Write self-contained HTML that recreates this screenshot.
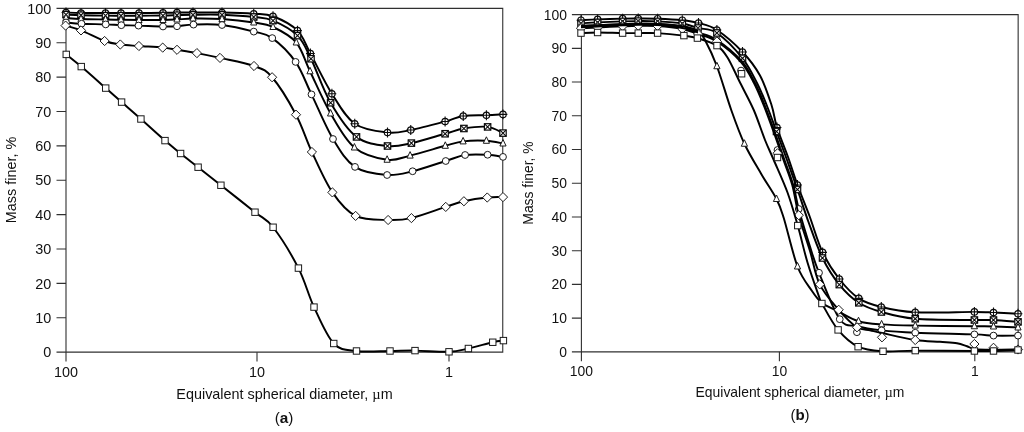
<!DOCTYPE html>
<html><head><meta charset="utf-8"><title>Mass finer vs equivalent spherical diameter</title>
<style>
html,body{margin:0;padding:0;background:#fff}
svg{display:block}
text{font-family:"Liberation Sans",sans-serif;fill:#111}
.ax{fill:none;stroke:#303030;stroke-width:1.1}
.ln{fill:none;stroke:#000;stroke-width:1.95;stroke-linejoin:round}
.m{fill:#fff;stroke:#1a1a1a;stroke-width:1.0}
.m2{fill:#fff;stroke:#0a0a0a;stroke-width:1.2}
.t2{fill:none;stroke:#0a0a0a;stroke-width:1.1}
.t{fill:none;stroke:#111;stroke-width:.95}
</style></head><body>
<svg width="1024" height="432" viewBox="0 0 1024 432">
<rect width="1024" height="432" fill="#fff"/>
<path class="ax" d="M56.5 8.35H502.75V352.15H56.5M66 8.35V361.45"/>
<path class="ax" d="M56.5 317.77H66M56.5 283.39H66M56.5 249.01H66M56.5 214.63H66M56.5 180.25H66M56.5 145.87H66M56.5 111.49H66M56.5 77.11H66M56.5 42.73H66M257 352.15V361.45M449 352.15V361.45"/>
<text x="51.3" y="357.31" text-anchor="end" font-size="14.4">0</text>
<text x="51.3" y="322.93" text-anchor="end" font-size="14.4">10</text>
<text x="51.3" y="288.55" text-anchor="end" font-size="14.4">20</text>
<text x="51.3" y="254.17" text-anchor="end" font-size="14.4">30</text>
<text x="51.3" y="219.79" text-anchor="end" font-size="14.4">40</text>
<text x="51.3" y="185.41" text-anchor="end" font-size="14.4">50</text>
<text x="51.3" y="151.03" text-anchor="end" font-size="14.4">60</text>
<text x="51.3" y="116.65" text-anchor="end" font-size="14.4">70</text>
<text x="51.3" y="82.27" text-anchor="end" font-size="14.4">80</text>
<text x="51.3" y="47.89" text-anchor="end" font-size="14.4">90</text>
<text x="51.3" y="13.51" text-anchor="end" font-size="14.4">100</text>
<text x="66" y="377.3" text-anchor="middle" font-size="14.4">100</text>
<text x="257" y="377.3" text-anchor="middle" font-size="14.4">10</text>
<text x="449" y="377.3" text-anchor="middle" font-size="14.4">1</text>
<text x="284.5" y="399.3" text-anchor="middle" font-size="14.4">Equivalent spherical diameter, <tspan font-family="'Liberation Serif',serif">µ</tspan>m</text>
<text transform="translate(16 180) rotate(-90)" text-anchor="middle" font-size="14.4">Mass finer, %</text>
<text x="284.1" y="422.9" text-anchor="middle" font-size="15.3">(<tspan font-weight="bold">a</tspan>)</text>
<g><path class="ln" d="M66 12.5C68.5 12.58 74.42 12.92 81 13C87.58 13.08 98.83 13 105.5 13C112.17 13 115.42 13 121 13C126.58 13 132 13.03 139 13C146 12.97 156.67 12.87 163 12.8C169.33 12.73 172 12.65 177 12.6C182 12.55 185.5 12.52 193 12.5C200.5 12.48 211.88 12.29 222 12.5C232.12 12.71 245.25 13.12 253.75 13.75C262.25 14.38 265.71 13.44 273 16.25C280.29 19.06 291.27 24.39 297.5 30.6C303.73 36.81 304.67 42.98 310.4 53.5C316.13 64.03 324.51 82.04 331.9 93.75C339.29 105.46 345.48 117.29 354.75 123.75C364.02 130.21 378.17 131.46 387.5 132.5C396.83 133.54 401.15 131.83 410.75 130C420.35 128.17 436.35 123.83 445.1 121.5C453.85 119.17 456.37 117.04 463.25 116C470.13 114.96 479.77 115.52 486.4 115.25C493.02 114.98 500.23 114.54 503 114.4"/><circle cx="66" cy="12.5" r="3.2" class="m2"/><path d="M61.6 12.5L70.4 12.5M66 7.6L66 17.4" class="t2"/><circle cx="81" cy="13" r="3.2" class="m2"/><path d="M76.6 13L85.4 13M81 8.1L81 17.9" class="t2"/><circle cx="105.5" cy="13" r="3.2" class="m2"/><path d="M101.1 13L109.9 13M105.5 8.1L105.5 17.9" class="t2"/><circle cx="121" cy="13" r="3.2" class="m2"/><path d="M116.6 13L125.4 13M121 8.1L121 17.9" class="t2"/><circle cx="139" cy="13" r="3.2" class="m2"/><path d="M134.6 13L143.4 13M139 8.1L139 17.9" class="t2"/><circle cx="163" cy="12.8" r="3.2" class="m2"/><path d="M158.6 12.8L167.4 12.8M163 7.9L163 17.7" class="t2"/><circle cx="177" cy="12.6" r="3.2" class="m2"/><path d="M172.6 12.6L181.4 12.6M177 7.7L177 17.5" class="t2"/><circle cx="193" cy="12.5" r="3.2" class="m2"/><path d="M188.6 12.5L197.4 12.5M193 7.6L193 17.4" class="t2"/><circle cx="222" cy="12.5" r="3.2" class="m2"/><path d="M217.6 12.5L226.4 12.5M222 7.6L222 17.4" class="t2"/><circle cx="253.75" cy="13.75" r="3.2" class="m2"/><path d="M249.35 13.75L258.15 13.75M253.75 8.85L253.75 18.65" class="t2"/><circle cx="273" cy="16.25" r="3.2" class="m2"/><path d="M268.6 16.25L277.4 16.25M273 11.35L273 21.15" class="t2"/><circle cx="297.5" cy="30.6" r="3.2" class="m2"/><path d="M293.1 30.6L301.9 30.6M297.5 25.7L297.5 35.5" class="t2"/><circle cx="310.4" cy="53.5" r="3.2" class="m2"/><path d="M306 53.5L314.8 53.5M310.4 48.6L310.4 58.4" class="t2"/><circle cx="331.9" cy="93.75" r="3.2" class="m2"/><path d="M327.5 93.75L336.3 93.75M331.9 88.85L331.9 98.65" class="t2"/><circle cx="354.75" cy="123.75" r="3.2" class="m2"/><path d="M350.35 123.75L359.15 123.75M354.75 118.85L354.75 128.65" class="t2"/><circle cx="387.5" cy="132.5" r="3.2" class="m2"/><path d="M383.1 132.5L391.9 132.5M387.5 127.6L387.5 137.4" class="t2"/><circle cx="410.75" cy="130" r="3.2" class="m2"/><path d="M406.35 130L415.15 130M410.75 125.1L410.75 134.9" class="t2"/><circle cx="445.1" cy="121.5" r="3.2" class="m2"/><path d="M440.7 121.5L449.5 121.5M445.1 116.6L445.1 126.4" class="t2"/><circle cx="463.25" cy="116" r="3.2" class="m2"/><path d="M458.85 116L467.65 116M463.25 111.1L463.25 120.9" class="t2"/><circle cx="486.4" cy="115.25" r="3.2" class="m2"/><path d="M482 115.25L490.8 115.25M486.4 110.35L486.4 120.15" class="t2"/><circle cx="503" cy="114.4" r="3.2" class="m2"/><path d="M498.6 114.4L507.4 114.4M503 109.5L503 119.3" class="t2"/></g>
<g><path class="ln" d="M66 14.6C68.5 14.7 74.42 15.03 81 15.2C87.58 15.37 98.83 15.52 105.5 15.6C112.17 15.68 115.42 15.68 121 15.7C126.58 15.72 132 15.73 139 15.7C146 15.67 156.67 15.58 163 15.5C169.33 15.42 172 15.32 177 15.2C182 15.08 185.5 14.87 193 14.8C200.5 14.73 211.88 14.43 222 14.8C232.12 15.17 245.25 16.03 253.75 17C262.25 17.97 265.71 17.5 273 20.6C280.29 23.7 291.17 29.24 297.5 35.6C303.83 41.96 305.48 47.56 311 58.75C316.52 69.94 323.02 89.72 330.6 102.75C338.18 115.78 347.02 129.69 356.5 136.9C365.98 144.11 378.35 144.97 387.5 146C396.65 147.03 401.8 145.14 411.4 143.1C421 141.06 436.35 136.18 445.1 133.75C453.85 131.32 456.82 129.64 463.9 128.5C470.98 127.36 481.08 126.13 487.6 126.9C494.12 127.67 500.43 132.07 503 133.1"/><rect x="62.8" y="11.4" width="6.4" height="6.4" class="m2"/><path d="M62.8 11.4L69.2 17.8M62.8 17.8L69.2 11.4" class="t2"/><rect x="77.8" y="12" width="6.4" height="6.4" class="m2"/><path d="M77.8 12L84.2 18.4M77.8 18.4L84.2 12" class="t2"/><rect x="102.3" y="12.4" width="6.4" height="6.4" class="m2"/><path d="M102.3 12.4L108.7 18.8M102.3 18.8L108.7 12.4" class="t2"/><rect x="117.8" y="12.5" width="6.4" height="6.4" class="m2"/><path d="M117.8 12.5L124.2 18.9M117.8 18.9L124.2 12.5" class="t2"/><rect x="135.8" y="12.5" width="6.4" height="6.4" class="m2"/><path d="M135.8 12.5L142.2 18.9M135.8 18.9L142.2 12.5" class="t2"/><rect x="159.8" y="12.3" width="6.4" height="6.4" class="m2"/><path d="M159.8 12.3L166.2 18.7M159.8 18.7L166.2 12.3" class="t2"/><rect x="173.8" y="12" width="6.4" height="6.4" class="m2"/><path d="M173.8 12L180.2 18.4M173.8 18.4L180.2 12" class="t2"/><rect x="189.8" y="11.6" width="6.4" height="6.4" class="m2"/><path d="M189.8 11.6L196.2 18M189.8 18L196.2 11.6" class="t2"/><rect x="218.8" y="11.6" width="6.4" height="6.4" class="m2"/><path d="M218.8 11.6L225.2 18M218.8 18L225.2 11.6" class="t2"/><rect x="250.55" y="13.8" width="6.4" height="6.4" class="m2"/><path d="M250.55 13.8L256.95 20.2M250.55 20.2L256.95 13.8" class="t2"/><rect x="269.8" y="17.4" width="6.4" height="6.4" class="m2"/><path d="M269.8 17.4L276.2 23.8M269.8 23.8L276.2 17.4" class="t2"/><rect x="294.3" y="32.4" width="6.4" height="6.4" class="m2"/><path d="M294.3 32.4L300.7 38.8M294.3 38.8L300.7 32.4" class="t2"/><rect x="307.8" y="55.55" width="6.4" height="6.4" class="m2"/><path d="M307.8 55.55L314.2 61.95M307.8 61.95L314.2 55.55" class="t2"/><rect x="327.4" y="99.55" width="6.4" height="6.4" class="m2"/><path d="M327.4 99.55L333.8 105.95M327.4 105.95L333.8 99.55" class="t2"/><rect x="353.3" y="133.7" width="6.4" height="6.4" class="m2"/><path d="M353.3 133.7L359.7 140.1M353.3 140.1L359.7 133.7" class="t2"/><rect x="384.3" y="142.8" width="6.4" height="6.4" class="m2"/><path d="M384.3 142.8L390.7 149.2M384.3 149.2L390.7 142.8" class="t2"/><rect x="408.2" y="139.9" width="6.4" height="6.4" class="m2"/><path d="M408.2 139.9L414.6 146.3M408.2 146.3L414.6 139.9" class="t2"/><rect x="441.9" y="130.55" width="6.4" height="6.4" class="m2"/><path d="M441.9 130.55L448.3 136.95M441.9 136.95L448.3 130.55" class="t2"/><rect x="460.7" y="125.3" width="6.4" height="6.4" class="m2"/><path d="M460.7 125.3L467.1 131.7M460.7 131.7L467.1 125.3" class="t2"/><rect x="484.4" y="123.7" width="6.4" height="6.4" class="m2"/><path d="M484.4 123.7L490.8 130.1M484.4 130.1L490.8 123.7" class="t2"/><rect x="499.8" y="129.9" width="6.4" height="6.4" class="m2"/><path d="M499.8 129.9L506.2 136.3M499.8 136.3L506.2 129.9" class="t2"/></g>
<g><path class="ln" d="M66 18C68.5 18.17 74.42 18.75 81 19C87.58 19.25 98.83 19.37 105.5 19.5C112.17 19.63 115.42 19.72 121 19.8C126.58 19.88 132 19.97 139 20C146 20.03 156.67 20.08 163 20C169.33 19.92 172 19.75 177 19.5C182 19.25 185.5 18.58 193 18.5C200.5 18.42 211.88 18.33 222 19C232.12 19.67 245.25 21.17 253.75 22.5C262.25 23.83 265.92 23.67 273 27C280.08 30.33 290.08 35.12 296.25 42.5C302.42 49.88 304.27 59.47 310 71.3C315.73 83.13 323.2 100.8 330.6 113.5C338 126.2 344.98 139.79 354.4 147.5C363.82 155.21 377.82 158.4 387.1 159.75C396.38 161.1 400.4 157.92 410.1 155.6C419.8 153.28 436.47 148.17 445.3 145.8C454.13 143.43 456.25 142.23 463.1 141.4C469.95 140.57 479.75 140.45 486.4 140.8C493.05 141.15 500.23 143.05 503 143.5"/><path d="M66 14L69.1 20.5L62.9 20.5Z" class="m"/><path d="M81 15L84.1 21.5L77.9 21.5Z" class="m"/><path d="M105.5 15.5L108.6 22L102.4 22Z" class="m"/><path d="M121 15.8L124.1 22.3L117.9 22.3Z" class="m"/><path d="M139 16L142.1 22.5L135.9 22.5Z" class="m"/><path d="M163 16L166.1 22.5L159.9 22.5Z" class="m"/><path d="M177 15.5L180.1 22L173.9 22Z" class="m"/><path d="M193 14.5L196.1 21L189.9 21Z" class="m"/><path d="M222 15L225.1 21.5L218.9 21.5Z" class="m"/><path d="M253.75 18.5L256.85 25L250.65 25Z" class="m"/><path d="M273 23L276.1 29.5L269.9 29.5Z" class="m"/><path d="M296.25 38.5L299.35 45L293.15 45Z" class="m"/><path d="M310 67.3L313.1 73.8L306.9 73.8Z" class="m"/><path d="M330.6 109.5L333.7 116L327.5 116Z" class="m"/><path d="M354.4 143.5L357.5 150L351.3 150Z" class="m"/><path d="M387.1 155.75L390.2 162.25L384 162.25Z" class="m"/><path d="M410.1 151.6L413.2 158.1L407 158.1Z" class="m"/><path d="M445.3 141.8L448.4 148.3L442.2 148.3Z" class="m"/><path d="M463.1 137.4L466.2 143.9L460 143.9Z" class="m"/><path d="M486.4 136.8L489.5 143.3L483.3 143.3Z" class="m"/><path d="M503 139.5L506.1 146L499.9 146Z" class="m"/></g>
<g><path class="ln" d="M66 22.5C68.58 22.71 74.88 23.43 81.5 23.75C88.12 24.07 99.07 24.16 105.7 24.4C112.33 24.64 115.83 25 121.3 25.2C126.77 25.4 131.55 25.38 138.5 25.6C145.45 25.82 156.58 26.39 163 26.5C169.42 26.61 171.92 26.57 177 26.25C182.08 25.93 186 24.81 193.5 24.6C201 24.39 211.96 23.83 222 25C232.04 26.17 245.38 29.42 253.75 31.6C262.12 33.78 265.27 33.05 272.25 38.1C279.23 43.15 289.06 52.52 295.6 61.9C302.14 71.28 305.27 81.55 311.5 94.4C317.73 107.25 325.75 126.92 333 139C340.25 151.08 345.98 160.9 355 166.9C364.02 172.9 377.5 174.28 387.1 175C396.7 175.72 402.83 173.58 412.6 171.25C422.38 168.92 437 163.71 445.75 161C454.5 158.29 458.12 156.04 465.1 155C472.08 153.96 481.28 154.43 487.6 154.75C493.92 155.07 500.43 156.54 503 156.9"/><circle cx="66" cy="22.5" r="3.4" class="m"/><circle cx="81.5" cy="23.75" r="3.4" class="m"/><circle cx="105.7" cy="24.4" r="3.4" class="m"/><circle cx="121.3" cy="25.2" r="3.4" class="m"/><circle cx="138.5" cy="25.6" r="3.4" class="m"/><circle cx="163" cy="26.5" r="3.4" class="m"/><circle cx="177" cy="26.25" r="3.4" class="m"/><circle cx="193.5" cy="24.6" r="3.4" class="m"/><circle cx="222" cy="25" r="3.4" class="m"/><circle cx="253.75" cy="31.6" r="3.4" class="m"/><circle cx="272.25" cy="38.1" r="3.4" class="m"/><circle cx="295.6" cy="61.9" r="3.4" class="m"/><circle cx="311.5" cy="94.4" r="3.4" class="m"/><circle cx="333" cy="139" r="3.4" class="m"/><circle cx="355" cy="166.9" r="3.4" class="m"/><circle cx="387.1" cy="175" r="3.4" class="m"/><circle cx="412.6" cy="171.25" r="3.4" class="m"/><circle cx="445.75" cy="161" r="3.4" class="m"/><circle cx="465.1" cy="155" r="3.4" class="m"/><circle cx="487.6" cy="154.75" r="3.4" class="m"/><circle cx="503" cy="156.9" r="3.4" class="m"/></g>
<g><path class="ln" d="M65.6 25.6C68.17 26.4 74.5 27.83 81 30.4C87.5 32.97 98.05 38.65 104.6 41C111.15 43.35 114.58 43.67 120.3 44.5C126.02 45.33 131.83 45.48 138.9 46C145.97 46.52 156.35 46.97 162.7 47.6C169.05 48.23 171.3 48.88 177 49.8C182.7 50.72 189.73 51.75 196.9 53.1C204.07 54.45 210.48 55.75 220 57.9C229.52 60.05 245.32 62.77 254 66C262.68 69.22 265.1 69.13 272.1 77.25C279.1 85.37 289.37 102.24 296 114.7C302.63 127.16 305.83 139.05 311.9 152C317.97 164.95 325.12 181.75 332.4 192.4C339.68 203.05 346.32 211.3 355.6 215.9C364.88 220.5 378.8 219.63 388.1 220C397.4 220.37 401.79 220.28 411.4 218.1C421.01 215.92 437 209.71 445.75 206.9C454.5 204.09 456.98 202.82 463.9 201.25C470.82 199.68 480.73 198.19 487.25 197.5C493.77 196.81 500.38 197.17 503 197.1"/><path d="M65.6 21L70.2 25.6L65.6 30.2L61 25.6Z" class="m"/><path d="M81 25.8L85.6 30.4L81 35L76.4 30.4Z" class="m"/><path d="M104.6 36.4L109.2 41L104.6 45.6L100 41Z" class="m"/><path d="M120.3 39.9L124.9 44.5L120.3 49.1L115.7 44.5Z" class="m"/><path d="M138.9 41.4L143.5 46L138.9 50.6L134.3 46Z" class="m"/><path d="M162.7 43L167.3 47.6L162.7 52.2L158.1 47.6Z" class="m"/><path d="M177 45.2L181.6 49.8L177 54.4L172.4 49.8Z" class="m"/><path d="M196.9 48.5L201.5 53.1L196.9 57.7L192.3 53.1Z" class="m"/><path d="M220 53.3L224.6 57.9L220 62.5L215.4 57.9Z" class="m"/><path d="M254 61.4L258.6 66L254 70.6L249.4 66Z" class="m"/><path d="M272.1 72.65L276.7 77.25L272.1 81.85L267.5 77.25Z" class="m"/><path d="M296 110.1L300.6 114.7L296 119.3L291.4 114.7Z" class="m"/><path d="M311.9 147.4L316.5 152L311.9 156.6L307.3 152Z" class="m"/><path d="M332.4 187.8L337 192.4L332.4 197L327.8 192.4Z" class="m"/><path d="M355.6 211.3L360.2 215.9L355.6 220.5L351 215.9Z" class="m"/><path d="M388.1 215.4L392.7 220L388.1 224.6L383.5 220Z" class="m"/><path d="M411.4 213.5L416 218.1L411.4 222.7L406.8 218.1Z" class="m"/><path d="M445.75 202.3L450.35 206.9L445.75 211.5L441.15 206.9Z" class="m"/><path d="M463.9 196.65L468.5 201.25L463.9 205.85L459.3 201.25Z" class="m"/><path d="M487.25 192.9L491.85 197.5L487.25 202.1L482.65 197.5Z" class="m"/><path d="M503 192.5L507.6 197.1L503 201.7L498.4 197.1Z" class="m"/></g>
<g><path class="ln" d="M66.25 54.4C68.75 56.43 74.67 60.98 81.25 66.6C87.83 72.22 98.98 82.18 105.7 88.1C112.42 94.02 115.73 96.95 121.6 102.1C127.47 107.25 133.67 112.58 140.9 119C148.13 125.42 158.38 134.85 165 140.6C171.62 146.35 175.08 149.07 180.6 153.5C186.12 157.93 191.38 161.91 198.1 167.2C204.82 172.49 211.42 177.75 220.9 185.25C230.38 192.75 246.3 205.2 255 212.2C263.7 219.2 265.87 217.93 273.1 227.25C280.33 236.57 291.58 254.79 298.4 268.1C305.22 281.41 308.11 294.53 314 307.1C319.89 319.67 326.67 336.18 333.75 343.5C340.83 350.82 347.12 349.75 356.5 351C365.88 352.25 380.25 351.07 390 351C399.75 350.93 405.17 350.47 415 350.6C424.83 350.73 440.1 352.15 449 351.8C457.9 351.45 461.11 350.09 468.4 348.5C475.69 346.91 486.92 343.57 492.75 342.25C498.58 340.93 501.62 340.88 503.4 340.6"/><rect x="63.05" y="51.2" width="6.4" height="6.4" class="m"/><rect x="78.05" y="63.4" width="6.4" height="6.4" class="m"/><rect x="102.5" y="84.9" width="6.4" height="6.4" class="m"/><rect x="118.4" y="98.9" width="6.4" height="6.4" class="m"/><rect x="137.7" y="115.8" width="6.4" height="6.4" class="m"/><rect x="161.8" y="137.4" width="6.4" height="6.4" class="m"/><rect x="177.4" y="150.3" width="6.4" height="6.4" class="m"/><rect x="194.9" y="164" width="6.4" height="6.4" class="m"/><rect x="217.7" y="182.05" width="6.4" height="6.4" class="m"/><rect x="251.8" y="209" width="6.4" height="6.4" class="m"/><rect x="269.9" y="224.05" width="6.4" height="6.4" class="m"/><rect x="295.2" y="264.9" width="6.4" height="6.4" class="m"/><rect x="310.8" y="303.9" width="6.4" height="6.4" class="m"/><rect x="330.55" y="340.3" width="6.4" height="6.4" class="m"/><rect x="353.3" y="347.8" width="6.4" height="6.4" class="m"/><rect x="386.8" y="347.8" width="6.4" height="6.4" class="m"/><rect x="411.8" y="347.4" width="6.4" height="6.4" class="m"/><rect x="445.8" y="348.6" width="6.4" height="6.4" class="m"/><rect x="465.2" y="345.3" width="6.4" height="6.4" class="m"/><rect x="489.55" y="339.05" width="6.4" height="6.4" class="m"/><rect x="500.2" y="337.4" width="6.4" height="6.4" class="m"/></g>
<path class="ax" d="M571.9 14.6H1018.15V351.85H571.9M581.4 14.6V361.15"/>
<path class="ax" d="M571.9 318.12H581.4M571.9 284.4H581.4M571.9 250.68H581.4M571.9 216.95H581.4M571.9 183.23H581.4M571.9 149.5H581.4M571.9 115.78H581.4M571.9 82.05H581.4M571.9 48.33H581.4M779.4 351.85V361.15M974.8 351.85V361.15"/>
<text x="567" y="356.83" text-anchor="end" font-size="13.9">0</text>
<text x="567" y="323.1" text-anchor="end" font-size="13.9">10</text>
<text x="567" y="289.38" text-anchor="end" font-size="13.9">20</text>
<text x="567" y="255.65" text-anchor="end" font-size="13.9">30</text>
<text x="567" y="221.93" text-anchor="end" font-size="13.9">40</text>
<text x="567" y="188.2" text-anchor="end" font-size="13.9">50</text>
<text x="567" y="154.48" text-anchor="end" font-size="13.9">60</text>
<text x="567" y="120.75" text-anchor="end" font-size="13.9">70</text>
<text x="567" y="87.03" text-anchor="end" font-size="13.9">80</text>
<text x="567" y="53.3" text-anchor="end" font-size="13.9">90</text>
<text x="567" y="19.58" text-anchor="end" font-size="13.9">100</text>
<text x="581.4" y="376.3" text-anchor="middle" font-size="13.9">100</text>
<text x="779.4" y="376.3" text-anchor="middle" font-size="13.9">10</text>
<text x="974.8" y="376.3" text-anchor="middle" font-size="13.9">1</text>
<text x="800" y="397" text-anchor="middle" font-size="13.9">Equivalent spherical diameter, <tspan font-family="'Liberation Serif',serif">µ</tspan>m</text>
<text transform="translate(533 183) rotate(-90)" text-anchor="middle" font-size="13.9">Mass finer, %</text>
<text x="800" y="420.4" text-anchor="middle" font-size="15">(<tspan font-weight="bold">b</tspan>)</text>
<g><path class="ln" d="M581 20.2C583.77 20.07 590.67 19.67 597.6 19.4C604.53 19.13 615.83 18.75 622.6 18.6C629.38 18.45 632.42 18.48 638.25 18.5C644.08 18.52 650.26 18.42 657.6 18.7C664.94 18.98 675.48 19.48 682.3 20.2C689.12 20.92 692.73 21.37 698.5 23C704.27 24.63 709.57 25.17 716.9 30C724.23 34.83 735.32 44.42 742.5 52C749.68 59.58 755.17 66.67 760 75.5C764.83 84.33 768.67 96.33 771.5 105C774.33 113.67 774.25 118.83 777 127.5C779.75 136.17 784.58 147.42 788 157C791.42 166.58 793.92 175.17 797.5 185C801.08 194.83 805.32 204.77 809.5 216C813.68 227.23 817.63 241.9 822.6 252.4C827.57 262.9 833.27 271.33 839.3 279C845.33 286.67 851.8 293.73 858.8 298.4C865.8 303.07 871.89 304.69 881.3 307C890.71 309.31 899.73 311.43 915.25 312.25C930.77 313.07 961.36 311.86 974.4 311.9C987.44 311.94 986.23 312.19 993.5 312.5C1000.77 312.81 1013.92 313.54 1018 313.75"/><circle cx="581" cy="20.2" r="3.2" class="m2"/><path d="M576.6 20.2L585.4 20.2M581 15.3L581 25.1" class="t2"/><circle cx="597.6" cy="19.4" r="3.2" class="m2"/><path d="M593.2 19.4L602 19.4M597.6 14.5L597.6 24.3" class="t2"/><circle cx="622.6" cy="18.6" r="3.2" class="m2"/><path d="M618.2 18.6L627 18.6M622.6 13.7L622.6 23.5" class="t2"/><circle cx="638.25" cy="18.5" r="3.2" class="m2"/><path d="M633.85 18.5L642.65 18.5M638.25 13.6L638.25 23.4" class="t2"/><circle cx="657.6" cy="18.7" r="3.2" class="m2"/><path d="M653.2 18.7L662 18.7M657.6 13.8L657.6 23.6" class="t2"/><circle cx="682.3" cy="20.2" r="3.2" class="m2"/><path d="M677.9 20.2L686.7 20.2M682.3 15.3L682.3 25.1" class="t2"/><circle cx="698.5" cy="23" r="3.2" class="m2"/><path d="M694.1 23L702.9 23M698.5 18.1L698.5 27.9" class="t2"/><circle cx="716.9" cy="30" r="3.2" class="m2"/><path d="M712.5 30L721.3 30M716.9 25.1L716.9 34.9" class="t2"/><circle cx="742.5" cy="52" r="3.2" class="m2"/><path d="M738.1 52L746.9 52M742.5 47.1L742.5 56.9" class="t2"/><circle cx="777" cy="127.5" r="3.2" class="m2"/><path d="M772.6 127.5L781.4 127.5M777 122.6L777 132.4" class="t2"/><circle cx="797.5" cy="185" r="3.2" class="m2"/><path d="M793.1 185L801.9 185M797.5 180.1L797.5 189.9" class="t2"/><circle cx="822.6" cy="252.4" r="3.2" class="m2"/><path d="M818.2 252.4L827 252.4M822.6 247.5L822.6 257.3" class="t2"/><circle cx="839.3" cy="279" r="3.2" class="m2"/><path d="M834.9 279L843.7 279M839.3 274.1L839.3 283.9" class="t2"/><circle cx="858.8" cy="298.4" r="3.2" class="m2"/><path d="M854.4 298.4L863.2 298.4M858.8 293.5L858.8 303.3" class="t2"/><circle cx="881.3" cy="307" r="3.2" class="m2"/><path d="M876.9 307L885.7 307M881.3 302.1L881.3 311.9" class="t2"/><circle cx="915.25" cy="312.25" r="3.2" class="m2"/><path d="M910.85 312.25L919.65 312.25M915.25 307.35L915.25 317.15" class="t2"/><circle cx="974.4" cy="311.9" r="3.2" class="m2"/><path d="M970 311.9L978.8 311.9M974.4 307L974.4 316.8" class="t2"/><circle cx="993.5" cy="312.5" r="3.2" class="m2"/><path d="M989.1 312.5L997.9 312.5M993.5 307.6L993.5 317.4" class="t2"/><circle cx="1018" cy="313.75" r="3.2" class="m2"/><path d="M1013.6 313.75L1022.4 313.75M1018 308.85L1018 318.65" class="t2"/></g>
<g><path class="ln" d="M581 23.3C583.77 23.15 590.67 22.72 597.6 22.4C604.53 22.08 615.83 21.62 622.6 21.4C629.38 21.18 632.42 21.1 638.25 21.1C644.08 21.1 650.26 21 657.6 21.4C664.94 21.8 675.57 22.4 682.3 23.5C689.03 24.6 692.23 26.42 698 28C703.77 29.58 709.48 27.95 716.9 33C724.32 38.05 735.82 49.97 742.5 58.3C749.18 66.63 752.92 75.05 757 83C761.08 90.95 763.75 97.92 767 106C770.25 114.08 773.17 122.5 776.5 131.5C779.83 140.5 783.5 150.33 787 160C790.5 169.67 793.92 179.17 797.5 189.5C801.08 199.83 804.33 210.58 808.5 222C812.67 233.42 817.37 247.57 822.5 258C827.63 268.43 833.25 277.13 839.3 284.6C845.35 292.07 851.78 298.23 858.8 302.8C865.82 307.37 871.99 309.34 881.4 312C890.81 314.66 899.75 317.42 915.25 318.75C930.75 320.08 961.36 319.79 974.4 320C987.44 320.21 986.23 319.68 993.5 320C1000.77 320.32 1013.92 321.58 1018 321.9"/><rect x="577.8" y="20.1" width="6.4" height="6.4" class="m2"/><path d="M577.8 20.1L584.2 26.5M577.8 26.5L584.2 20.1" class="t2"/><rect x="594.4" y="19.2" width="6.4" height="6.4" class="m2"/><path d="M594.4 19.2L600.8 25.6M594.4 25.6L600.8 19.2" class="t2"/><rect x="619.4" y="18.2" width="6.4" height="6.4" class="m2"/><path d="M619.4 18.2L625.8 24.6M619.4 24.6L625.8 18.2" class="t2"/><rect x="635.05" y="17.9" width="6.4" height="6.4" class="m2"/><path d="M635.05 17.9L641.45 24.3M635.05 24.3L641.45 17.9" class="t2"/><rect x="654.4" y="18.2" width="6.4" height="6.4" class="m2"/><path d="M654.4 18.2L660.8 24.6M654.4 24.6L660.8 18.2" class="t2"/><rect x="679.1" y="20.3" width="6.4" height="6.4" class="m2"/><path d="M679.1 20.3L685.5 26.7M679.1 26.7L685.5 20.3" class="t2"/><rect x="694.8" y="24.8" width="6.4" height="6.4" class="m2"/><path d="M694.8 24.8L701.2 31.2M694.8 31.2L701.2 24.8" class="t2"/><rect x="713.7" y="29.8" width="6.4" height="6.4" class="m2"/><path d="M713.7 29.8L720.1 36.2M713.7 36.2L720.1 29.8" class="t2"/><rect x="739.3" y="55.1" width="6.4" height="6.4" class="m2"/><path d="M739.3 55.1L745.7 61.5M739.3 61.5L745.7 55.1" class="t2"/><rect x="773.3" y="128.3" width="6.4" height="6.4" class="m2"/><path d="M773.3 128.3L779.7 134.7M773.3 134.7L779.7 128.3" class="t2"/><rect x="794.3" y="186.3" width="6.4" height="6.4" class="m2"/><path d="M794.3 186.3L800.7 192.7M794.3 192.7L800.7 186.3" class="t2"/><rect x="819.3" y="254.8" width="6.4" height="6.4" class="m2"/><path d="M819.3 254.8L825.7 261.2M819.3 261.2L825.7 254.8" class="t2"/><rect x="836.1" y="281.4" width="6.4" height="6.4" class="m2"/><path d="M836.1 281.4L842.5 287.8M836.1 287.8L842.5 281.4" class="t2"/><rect x="855.6" y="299.6" width="6.4" height="6.4" class="m2"/><path d="M855.6 299.6L862 306M855.6 306L862 299.6" class="t2"/><rect x="878.2" y="308.8" width="6.4" height="6.4" class="m2"/><path d="M878.2 308.8L884.6 315.2M878.2 315.2L884.6 308.8" class="t2"/><rect x="912.05" y="315.55" width="6.4" height="6.4" class="m2"/><path d="M912.05 315.55L918.45 321.95M912.05 321.95L918.45 315.55" class="t2"/><rect x="971.2" y="316.8" width="6.4" height="6.4" class="m2"/><path d="M971.2 316.8L977.6 323.2M971.2 323.2L977.6 316.8" class="t2"/><rect x="990.3" y="316.8" width="6.4" height="6.4" class="m2"/><path d="M990.3 316.8L996.7 323.2M990.3 323.2L996.7 316.8" class="t2"/><rect x="1014.8" y="318.7" width="6.4" height="6.4" class="m2"/><path d="M1014.8 318.7L1021.2 325.1M1014.8 325.1L1021.2 318.7" class="t2"/></g>
<g><path class="ln" d="M581 26C583.77 25.87 590.67 25.5 597.6 25.2C604.53 24.9 615.83 24.45 622.6 24.2C629.38 23.95 632.42 23.75 638.25 23.7C644.08 23.65 650.26 23.47 657.6 23.9C664.94 24.33 675.57 25.12 682.3 26.3C689.03 27.48 694.22 28.72 698 31C701.78 33.28 701.85 34.12 705 40C708.15 45.88 712.52 54.58 716.9 66.25C721.27 77.92 726.67 97.08 731.25 110C735.83 122.92 739.4 133.08 744.4 143.75C749.4 154.42 755.9 164.79 761.25 174C766.6 183.21 772.75 191.67 776.5 199C780.25 206.33 780.25 206.75 783.75 218C787.25 229.25 792.79 254.33 797.5 266.5C802.21 278.67 807.92 284.92 812 291C816.08 297.08 817.58 299.58 822 303C826.42 306.42 832.42 308.47 838.5 311.5C844.58 314.53 851.32 319.05 858.5 321.2C865.68 323.35 872.14 323.67 881.6 324.4C891.06 325.13 899.78 325.29 915.25 325.6C930.72 325.91 961.36 326.1 974.4 326.25C987.44 326.4 986.23 326.29 993.5 326.5C1000.77 326.71 1013.92 327.33 1018 327.5"/><path d="M581 22L584.1 28.5L577.9 28.5Z" class="m"/><path d="M597.6 21.2L600.7 27.7L594.5 27.7Z" class="m"/><path d="M622.6 20.2L625.7 26.7L619.5 26.7Z" class="m"/><path d="M638.25 19.7L641.35 26.2L635.15 26.2Z" class="m"/><path d="M657.6 19.9L660.7 26.4L654.5 26.4Z" class="m"/><path d="M682.3 22.3L685.4 28.8L679.2 28.8Z" class="m"/><path d="M698 27L701.1 33.5L694.9 33.5Z" class="m"/><path d="M716.9 62.25L720 68.75L713.8 68.75Z" class="m"/><path d="M744.4 139.75L747.5 146.25L741.3 146.25Z" class="m"/><path d="M776.5 195L779.6 201.5L773.4 201.5Z" class="m"/><path d="M797.5 262.5L800.6 269L794.4 269Z" class="m"/><path d="M858.5 317.2L861.6 323.7L855.4 323.7Z" class="m"/><path d="M881.6 320.4L884.7 326.9L878.5 326.9Z" class="m"/><path d="M915.25 321.6L918.35 328.1L912.15 328.1Z" class="m"/><path d="M974.4 322.25L977.5 328.75L971.3 328.75Z" class="m"/><path d="M993.5 322.5L996.6 329L990.4 329Z" class="m"/><path d="M1018 323.5L1021.1 330L1014.9 330Z" class="m"/></g>
<g><path class="ln" d="M581 27.2C583.77 27.08 590.67 26.82 597.6 26.5C604.53 26.18 615.83 25.58 622.6 25.3C629.38 25.02 632.42 24.85 638.25 24.8C644.08 24.75 650.26 24.47 657.6 25C664.94 25.53 675.57 26.75 682.3 28C689.03 29.25 692.23 30.5 698 32.5C703.77 34.5 709.65 35.25 716.9 40C724.15 44.75 735.15 53.83 741.5 61C747.85 68.17 751.08 75.5 755 83C758.92 90.5 761.54 97.33 765 106C768.46 114.67 772.5 126 775.75 135C779 144 781.58 151.67 784.5 160C787.42 168.33 790.88 176.83 793.25 185C795.62 193.17 796.04 199 798.75 209C801.46 219 806.12 234.38 809.5 245C812.88 255.62 813.96 260.38 819 272.75C824.04 285.12 833.42 310.27 839.75 319.2C846.08 328.12 850.02 324.43 857 326.3C863.98 328.17 871.89 329.32 881.6 330.4C891.31 331.47 899.78 332.08 915.25 332.75C930.72 333.42 961.36 333.92 974.4 334.4C987.44 334.88 986.23 335.4 993.5 335.6C1000.77 335.8 1013.92 335.6 1018 335.6"/><circle cx="581" cy="27.2" r="3.4" class="m"/><circle cx="597.6" cy="26.5" r="3.4" class="m"/><circle cx="622.6" cy="25.3" r="3.4" class="m"/><circle cx="638.25" cy="24.8" r="3.4" class="m"/><circle cx="657.6" cy="25" r="3.4" class="m"/><circle cx="682.3" cy="28" r="3.4" class="m"/><circle cx="698" cy="32.5" r="3.4" class="m"/><circle cx="716.9" cy="40" r="3.4" class="m"/><circle cx="741" cy="70.6" r="3.4" class="m"/><circle cx="777.5" cy="150" r="3.4" class="m"/><circle cx="798.75" cy="209" r="3.4" class="m"/><circle cx="819" cy="272.75" r="3.4" class="m"/><circle cx="839.75" cy="319.2" r="3.4" class="m"/><circle cx="856.9" cy="332.2" r="3.4" class="m"/><circle cx="881.6" cy="330.4" r="3.4" class="m"/><circle cx="915.25" cy="332.75" r="3.4" class="m"/><circle cx="974.4" cy="334.4" r="3.4" class="m"/><circle cx="993.5" cy="335.6" r="3.4" class="m"/><circle cx="1018" cy="335.6" r="3.4" class="m"/></g>
<g><path class="ln" d="M581 28.2C583.77 28.08 590.67 27.82 597.6 27.5C604.53 27.18 615.83 26.58 622.6 26.3C629.38 26.02 632.42 25.85 638.25 25.8C644.08 25.75 650.26 25.47 657.6 26C664.94 26.53 675.57 27.67 682.3 29C689.03 30.33 692.23 31.92 698 34C703.77 36.08 709.73 36.83 716.9 41.5C724.07 46.17 734.82 55.08 741 62C747.18 68.92 750.17 75.67 754 83C757.83 90.33 760.54 97.33 764 106C767.46 114.67 771.5 126 774.75 135C778 144 780.58 151.67 783.5 160C786.42 168.33 789.71 175.8 792.25 185C794.79 194.2 795.79 204.2 798.75 215.2C801.71 226.2 806.5 239.47 810 251C813.5 262.53 814.97 274.6 819.75 284.4C824.53 294.2 832.49 302.65 838.7 309.8C844.91 316.95 851.78 323.9 857 327.3C862.22 330.7 865.83 329.25 870 330.2C874.17 331.15 874.46 331.37 882 333C889.54 334.63 905.58 338.53 915.25 340C924.92 341.47 933.04 341.27 940 341.8C946.96 342.33 952.5 342.45 957 343.2C961.5 343.95 963.92 345.28 967 346.3C970.08 347.32 971.08 348.75 975.5 349.3C979.92 349.85 986.42 349.6 993.5 349.6C1000.58 349.6 1013.92 349.35 1018 349.3"/><path d="M581 23.6L585.6 28.2L581 32.8L576.4 28.2Z" class="m"/><path d="M597.6 22.9L602.2 27.5L597.6 32.1L593 27.5Z" class="m"/><path d="M622.6 21.7L627.2 26.3L622.6 30.9L618 26.3Z" class="m"/><path d="M638.25 21.2L642.85 25.8L638.25 30.4L633.65 25.8Z" class="m"/><path d="M657.6 21.4L662.2 26L657.6 30.6L653 26Z" class="m"/><path d="M682.3 24.4L686.9 29L682.3 33.6L677.7 29Z" class="m"/><path d="M698 29.4L702.6 34L698 38.6L693.4 34Z" class="m"/><path d="M716.9 36.9L721.5 41.5L716.9 46.1L712.3 41.5Z" class="m"/><path d="M777.5 148.7L782.1 153.3L777.5 157.9L772.9 153.3Z" class="m"/><path d="M798.75 210.6L803.35 215.2L798.75 219.8L794.15 215.2Z" class="m"/><path d="M819.75 279.8L824.35 284.4L819.75 289L815.15 284.4Z" class="m"/><path d="M838.7 305.2L843.3 309.8L838.7 314.4L834.1 309.8Z" class="m"/><path d="M857 322.7L861.6 327.3L857 331.9L852.4 327.3Z" class="m"/><path d="M882 332.7L886.6 337.3L882 341.9L877.4 337.3Z" class="m"/><path d="M915.25 335.4L919.85 340L915.25 344.6L910.65 340Z" class="m"/><path d="M974.4 339.4L979 344L974.4 348.6L969.8 344Z" class="m"/><path d="M993.5 343.2L998.1 347.8L993.5 352.4L988.9 347.8Z" class="m"/><path d="M1018 344.9L1022.6 349.5L1018 354.1L1013.4 349.5Z" class="m"/></g>
<path class="ln" d="M581 26C583.77 25.87 590.67 25.5 597.6 25.2C604.53 24.9 615.83 24.45 622.6 24.2C629.38 23.95 632.42 23.75 638.25 23.7C644.08 23.65 650.26 23.47 657.6 23.9C664.94 24.33 675.57 25.12 682.3 26.3C689.03 27.48 695.38 30.22 698 31"/>
<path class="ln" d="M581 27.2C583.77 27.08 590.67 26.82 597.6 26.5C604.53 26.18 615.83 25.58 622.6 25.3C629.38 25.02 632.42 24.85 638.25 24.8C644.08 24.75 650.26 24.47 657.6 25C664.94 25.53 675.57 26.75 682.3 28C689.03 29.25 695.38 31.75 698 32.5"/>
<g><path class="ln" d="M581 33.1C583.77 33 590.67 32.5 597.6 32.5C604.53 32.5 615.83 33 622.6 33.1C629.38 33.2 632.42 33.1 638.25 33.1C644.08 33.1 649.99 32.68 657.6 33.1C665.21 33.52 677.27 34.77 683.9 35.6C690.53 36.43 691.88 36.43 697.4 38.1C702.92 39.77 711.98 42.37 717 45.6C722.02 48.83 723.67 51.35 727.5 57.5C731.33 63.65 735.62 73.75 740 82.5C744.38 91.25 749.58 100.42 753.75 110C757.92 119.58 761.67 131.67 765 140C768.33 148.33 770 151.25 773.75 160C777.5 168.75 783.5 181.57 787.5 192.5C791.5 203.43 794.42 213.93 797.75 225.6C801.08 237.27 803.88 250.43 807.5 262.5C811.12 274.57 817.1 291.17 819.5 298C821.9 304.83 818.8 298.18 821.9 303.5C825 308.82 832.07 322.7 838.1 329.9C844.13 337.1 850.62 343.13 858.1 346.7C865.58 350.27 873.48 350.65 883 351.3C892.52 351.95 900.02 350.65 915.25 350.6C930.48 350.55 961.36 350.93 974.4 351C987.44 351.07 986.23 351.17 993.5 351C1000.77 350.83 1013.92 350.17 1018 350"/><rect x="577.8" y="29.9" width="6.4" height="6.4" class="m"/><rect x="594.4" y="29.3" width="6.4" height="6.4" class="m"/><rect x="619.4" y="29.9" width="6.4" height="6.4" class="m"/><rect x="635.05" y="29.9" width="6.4" height="6.4" class="m"/><rect x="654.4" y="29.9" width="6.4" height="6.4" class="m"/><rect x="680.7" y="32.4" width="6.4" height="6.4" class="m"/><rect x="694.2" y="34.9" width="6.4" height="6.4" class="m"/><rect x="713.8" y="42.4" width="6.4" height="6.4" class="m"/><rect x="738.4" y="70.55" width="6.4" height="6.4" class="m"/><rect x="774.3" y="154.3" width="6.4" height="6.4" class="m"/><rect x="794.55" y="222.4" width="6.4" height="6.4" class="m"/><rect x="818.7" y="300.3" width="6.4" height="6.4" class="m"/><rect x="834.9" y="326.7" width="6.4" height="6.4" class="m"/><rect x="854.9" y="343.5" width="6.4" height="6.4" class="m"/><rect x="879.8" y="348.1" width="6.4" height="6.4" class="m"/><rect x="912.05" y="347.4" width="6.4" height="6.4" class="m"/><rect x="971.2" y="347.8" width="6.4" height="6.4" class="m"/><rect x="990.3" y="347.8" width="6.4" height="6.4" class="m"/><rect x="1014.8" y="346.8" width="6.4" height="6.4" class="m"/></g>
</svg>
</body></html>
